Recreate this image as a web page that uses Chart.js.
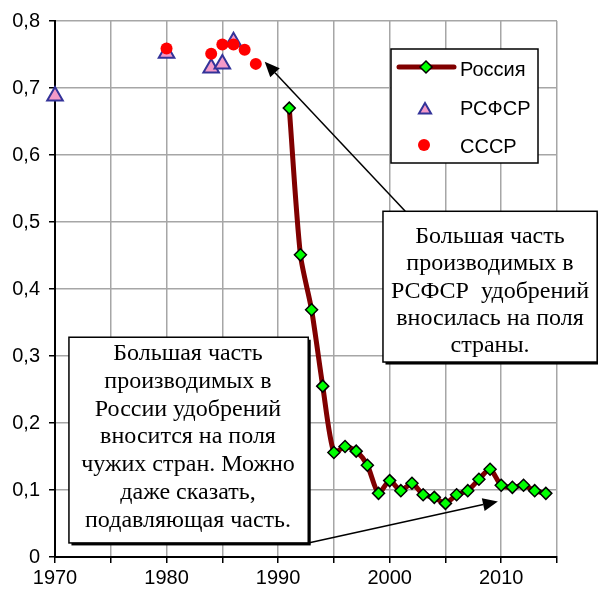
<!DOCTYPE html>
<html>
<head>
<meta charset="utf-8">
<script src="https://cdn.jsdelivr.net/npm/chart.js@4/dist/chart.umd.min.js"></script>
<style>
  html, body { margin: 0; padding: 0; background: #fff; }
  #wrap { width: 598px; height: 591px; }
</style>
</head>
<body>
<div id="wrap"><canvas id="fertChart" width="598" height="591"></canvas></div>
<script>
// Россия 1991-2014
const russiaYears = [1991, 1992, 1993, 1994, 1995, 1996, 1997, 1998, 1999, 2000, 2001, 2002,
                     2003, 2004, 2005, 2006, 2007, 2008, 2009, 2010, 2011, 2012, 2013, 2014];
const russiaValues = [0.670, 0.451, 0.369, 0.255, 0.156, 0.165, 0.158, 0.137, 0.095, 0.114, 0.099, 0.110,
                      0.093, 0.089, 0.080, 0.093, 0.099, 0.116, 0.131, 0.107, 0.104, 0.107, 0.099, 0.095];

// РСФСР
const rsfsrYears = [1970, 1980, 1984, 1985, 1986];
const rsfsrValues = [0.688, 0.752, 0.730, 0.736, 0.769];

// СССР
const ussrYears = [1980, 1984, 1985, 1986, 1987, 1988];
const ussrValues = [0.759, 0.751, 0.765, 0.765, 0.757, 0.736];

const seriesNames = ["Россия", "РСФСР", "СССР"];

const leftNote = ["Большая часть", "производимых в", "России удобрений", "вносится на поля",
                  "чужих стран. Можно", "даже сказать,", "подавляющая часть."];
const rightNote = ["Большая часть", "производимых в", "РСФСР  удобрений", "вносилась на поля", "страны."];

const toPoints = (xs, ys) => xs.map((x, i) => ({ x: x, y: ys[i] }));

function diamond(ctx, x, y, r) {
    ctx.beginPath();
    ctx.moveTo(x, y - r); ctx.lineTo(x + r, y); ctx.lineTo(x, y + r); ctx.lineTo(x - r, y);
    ctx.closePath(); ctx.fill(); ctx.stroke();
}
function triangle(ctx, x, y, r) {
    ctx.beginPath();
    ctx.moveTo(x, y - r);
    ctx.lineTo(x + r * 0.866, y + r * 0.5);
    ctx.lineTo(x - r * 0.866, y + r * 0.5);
    ctx.closePath(); ctx.fill(); ctx.stroke();
}
function dot(ctx, x, y, r) {
    ctx.beginPath(); ctx.arc(x, y, r, 0, Math.PI * 2); ctx.fill();
}

function arrow(ctx, x1, y1, x2, y2) {
    const a = Math.atan2(y2 - y1, x2 - x1);
    const len = 15, half = 6.5;
    const bx = x2 - Math.cos(a) * len, by = y2 - Math.sin(a) * len;
    ctx.strokeStyle = "#000"; ctx.fillStyle = "#000"; ctx.lineWidth = 1.5;
    ctx.beginPath(); ctx.moveTo(x1, y1); ctx.lineTo(bx, by); ctx.stroke();
    ctx.beginPath();
    ctx.moveTo(x2, y2);
    ctx.lineTo(bx + Math.sin(a) * half, by - Math.cos(a) * half);
    ctx.lineTo(bx - Math.sin(a) * half, by + Math.cos(a) * half);
    ctx.closePath(); ctx.fill();
}

function noteBox(ctx, x1, y1, x2, y2, lines, cx, firstBase, step) {
    ctx.fillStyle = "#000";
    ctx.fillRect(x1 + 2.5, y1 + 2.5, x2 - x1, y2 - y1);
    ctx.fillStyle = "#fff";
    ctx.fillRect(x1, y1, x2 - x1, y2 - y1);
    ctx.strokeStyle = "#000"; ctx.lineWidth = 1.5;
    ctx.strokeRect(x1, y1, x2 - x1, y2 - y1);
    ctx.fillStyle = "#000";
    ctx.font = '24px "Liberation Serif", "DejaVu Serif", serif';
    ctx.textAlign = "center"; ctx.textBaseline = "alphabetic";
    lines.forEach((t, i) => ctx.fillText(t, cx, firstBase + i * step));
}

const extras = {
    id: "extras",
    afterDraw(chart) {
        const ctx = chart.ctx;
        const xs = chart.scales.x, ys = chart.scales.y;
        const px = v => xs.getPixelForValue(v), py = v => ys.getPixelForValue(v);
        ctx.save();

        // arrows
        arrow(ctx, px(2001.4), py(0.516), px(1988.8), py(0.739));
        arrow(ctx, px(1992.7), py(0.021), px(2009.7), py(0.083));

        // callout boxes
        noteBox(ctx, px(1999.4), py(0.516), px(2018.6), py(0.291), rightNote, 490, 243, 27.3);
        noteBox(ctx, px(1971.25), py(0.328), px(1992.7), py(0.021), leftNote, 188, 360, 27.8);

        // legend
        ctx.fillStyle = "#fff";
        ctx.fillRect(391, 49, 147, 114);
        ctx.strokeStyle = "#000"; ctx.lineWidth = 1.5;
        ctx.strokeRect(391, 49, 147, 114);

        ctx.strokeStyle = "#800000"; ctx.lineWidth = 5; ctx.lineCap = "round";
        ctx.beginPath(); ctx.moveTo(399, 67); ctx.lineTo(454, 67); ctx.stroke();
        ctx.lineCap = "butt";
        ctx.fillStyle = "#00ff00"; ctx.strokeStyle = "#000"; ctx.lineWidth = 1.5;
        diamond(ctx, 426, 67, 6);
        ctx.fillStyle = "#f49ac8"; ctx.strokeStyle = "#333399"; ctx.lineWidth = 2;
        triangle(ctx, 425, 110, 7);
        ctx.fillStyle = "#ff0000";
        dot(ctx, 424, 145, 6);

        ctx.fillStyle = "#000";
        ctx.font = '20px "Liberation Sans", Arial, sans-serif';
        ctx.textAlign = "left"; ctx.textBaseline = "middle";
        ctx.fillText(seriesNames[0], 460, 70);
        ctx.fillText(seriesNames[1], 460, 109);
        ctx.fillText(seriesNames[2], 460, 147);

        ctx.restore();
    }
};

const fertChart = new Chart(document.getElementById("fertChart").getContext("2d"), {
    type: "line",
    data: {
        datasets: [{
            label: seriesNames[0],
            data: toPoints(russiaYears, russiaValues),
            borderColor: "#800000",
            borderWidth: 5,
            tension: 0.25,
            pointStyle: "rectRot",
            pointRadius: 6,
            pointBackgroundColor: "#00ff00",
            pointBorderColor: "#000",
            pointBorderWidth: 1.5,
            clip: false,
            order: 2
        }, {
            label: seriesNames[1],
            data: toPoints(rsfsrYears, rsfsrValues),
            showLine: false,
            pointStyle: "triangle",
            pointRadius: 9,
            pointBackgroundColor: "#f49ac8",
            pointBorderColor: "#333399",
            pointBorderWidth: 2,
            clip: false,
            order: 1
        }, {
            label: seriesNames[2],
            data: toPoints(ussrYears, ussrValues),
            showLine: false,
            pointStyle: "circle",
            pointRadius: 6,
            pointBackgroundColor: "#ff0000",
            pointBorderColor: "#ff0000",
            pointBorderWidth: 0,
            clip: false,
            order: 0
        }]
    },
    options: {
        responsive: false,
        animation: false,
        layout: { padding: { top: 21, right: 41, left: 0, bottom: 0 } },
        plugins: { legend: { display: false }, tooltip: { enabled: false } },
        elements: { point: { hoverRadius: 6 } },
        scales: {
            x: {
                type: "linear",
                min: 1970, max: 2015,
                afterFit: s => { s.height = 34; },
                ticks: {
                    stepSize: 5,
                    autoSkip: false,
                    maxRotation: 0,
                    padding: 3,
                    color: "#000",
                    font: { family: "Liberation Sans", size: 20 },
                    callback: v => (v % 10 === 0 && v < 2015) ? String(v) : ""
                },
                grid: { color: "#a6a6a6", lineWidth: 1.5, tickColor: "#000", tickLength: 6 },
                border: { color: "#000", width: 2 }
            },
            y: {
                min: 0, max: 0.8,
                afterFit: s => { s.width = 55; },
                ticks: {
                    stepSize: 0.1,
                    padding: 9,
                    color: "#000",
                    font: { family: "Liberation Sans", size: 20 },
                    callback: v => v === 0 ? "0" : v.toFixed(1).replace(".", ",")
                },
                grid: { color: "#a6a6a6", lineWidth: 1.5, tickColor: "#000", tickLength: 6 },
                border: { color: "#000", width: 2 }
            }
        }
    },
    plugins: [extras]
});
</script>
</body>
</html>
